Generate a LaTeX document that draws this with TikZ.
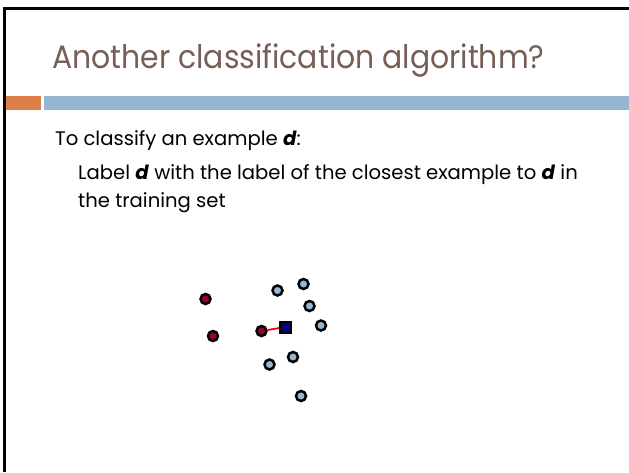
\documentclass[tikz,border=0pt]{standalone}
\usepackage{fontspec}
\setmainfont{Poppins}
\newfontfamily\titlefamily[FakeStretch=0.92]{Poppins}
\definecolor{titlebrown}{HTML}{775F55}
\definecolor{accblue}{HTML}{94B6D2}
\definecolor{accorange}{HTML}{DD8047}
\definecolor{crimson}{HTML}{990033}
\definecolor{navyfill}{HTML}{000080}
\begin{document}
\begin{tikzpicture}[x=1pt,y=-1pt,
  pt/.style={circle,draw=black,line width=2.5pt,minimum size=10pt,inner sep=0pt},
  redpt/.style={pt,fill=crimson},
  bluept/.style={pt,fill=accblue},
  query/.style={rectangle,draw=black,line width=2pt,fill=navyfill,minimum size=11pt,inner sep=0pt},
  bodytext/.style={anchor=base west,inner sep=0pt,font=\fontsize{19.6}{23}\selectfont}]
\useasboundingbox (0,0) rectangle (629,472);
\fill[white] (0,0) rectangle (629,472);
% slide frame (top and left edges)
\draw[line width=3pt,black] (4.5,472) -- (4.5,8.5) -- (629,8.5);
% title
\node[anchor=base west,inner sep=0pt,text=titlebrown,font=\titlefamily\fontsize{32.5}{38}\selectfont] (title) at (52,68.5) {Another classification algorithm?};
% accent bars
\fill[accorange] (6,96) rectangle (41,110);
\fill[accblue] (44,96) rectangle (629,110);
% body text
\node[bodytext] (l1) at (55,145) {To classify an example \textbf{\textit{d}}:};
\node[bodytext] (l2) at (78,179) {Label \textbf{\textit{d}} with the label of the closest example to \textbf{\textit{d}} in};
\node[bodytext] (l3) at (78,207) {the training set};
% training examples
\node[redpt] (r1) at (205.5,299) {};
\node[redpt] (r2) at (213,336) {};
\node[redpt] (r3) at (261.5,331) {};
\node[bluept] (b1) at (277.5,290.5) {};
\node[bluept] (b2) at (303.5,284) {};
\node[bluept] (b3) at (309.5,306) {};
\node[bluept] (b4) at (321,325.5) {};
\node[bluept] (b5) at (293,357) {};
\node[bluept] (b6) at (269.5,364.5) {};
\node[bluept] (b7) at (301,396) {};
% query example and its nearest neighbour
\node[query] (q) at (285.5,327) {};
\draw[red,line width=1.8pt] (r3) -- (q);
\end{tikzpicture}
\end{document}
